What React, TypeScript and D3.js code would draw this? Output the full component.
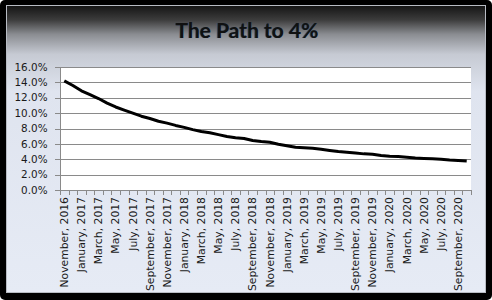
import React from "react";
import * as d3 from "d3";

const title = "The Path to 4%";

const monthNames = ["January","February","March","April","May","June","July","August","September","October","November","December"];

// Categories: November 2016 .. October 2020 (48 months)
const categories: string[] = [];
for (let k = 0; k < 48; k++) {
  const m = (10 + k) % 12;
  const y = 2016 + Math.floor((10 + k) / 12);
  categories.push(`${monthNames[m]}, ${y}`);
}

const rateValues = [
  14.2, 13.6, 12.9, 12.4, 11.9, 11.3, 10.8, 10.4, 10.0, 9.6,
  9.3, 8.95, 8.7, 8.4, 8.15, 7.85, 7.6, 7.45, 7.2, 6.95,
  6.8, 6.7, 6.45, 6.3, 6.2, 5.95, 5.75, 5.55, 5.5, 5.42,
  5.3, 5.15, 5.0, 4.9, 4.8, 4.7, 4.65, 4.5, 4.4, 4.35,
  4.25, 4.15, 4.1, 4.05, 4.0, 3.9, 3.85, 3.78,
];

const yTicks = [0, 2, 4, 6, 8, 10, 12, 14, 16];

const W = 492, H = 300;
const plot = { left: 60, right: 471, top: 67, bottom: 190 };

export default function App() {
  const x = d3.scaleBand<string>().domain(categories).range([plot.left, plot.right]).padding(0);
  const y = d3.scaleLinear().domain([0, 16]).range([plot.bottom, plot.top]);
  const line = d3.line<number>()
    .x((_, i) => (x(categories[i]) as number) + x.bandwidth() / 2)
    .y((d) => y(d));
  const font = "'DejaVu Sans', sans-serif";
  const bounds = categories.map((c) => x(c) as number).concat([plot.right]);

  return (
    <svg width={W} height={H} style={{ position: "absolute", left: 0, top: 0, display: "block" }}>
      <defs>
        <linearGradient id="bg" x1="0" y1="0" x2="0" y2="1">
          <stop offset="0" stopColor="#141414" />
          <stop offset="0.05" stopColor="#3c3c3c" />
          <stop offset="0.1" stopColor="#8a8c91" />
          <stop offset="0.17" stopColor="#c6cad3" />
          <stop offset="0.3" stopColor="#dfe4ef" />
          <stop offset="1" stopColor="#e6ebf5" />
        </linearGradient>
      </defs>
      <rect x={0} y={0} width={W} height={H} rx={5} fill="#000" />
      <rect x={6.5} y={5.5} width={479} height={287} fill="url(#bg)" stroke="#b8bcc4" strokeWidth={1} />
      <text x={247} y={38} textAnchor="middle" fontFamily="Lato, 'Open Sans', sans-serif" fontWeight="bold" fontSize={21} fill="#2b4a6e" dx={-0.8}>{title}</text>
      <text x={247} y={38} textAnchor="middle" fontFamily="Lato, 'Open Sans', sans-serif" fontWeight="bold" fontSize={21} fill="#111">{title}</text>

      <rect x={plot.left} y={plot.top} width={plot.right - plot.left} height={plot.bottom - plot.top} fill="#fff" />
      {yTicks.map((t) => (
        <g key={t}>
          <line x1={plot.left - 5} x2={plot.right} y1={Math.round(y(t)) + 0.5} y2={Math.round(y(t)) + 0.5} stroke="#8a8a8a" strokeWidth={1} />
          <text x={47.5} y={y(t)} dy="0.35em" textAnchor="end" fontFamily={font} fontSize={10.4} fill="#1a1a1a">{t.toFixed(1)}%</text>
        </g>
      ))}
      <line x1={plot.left + 0.5} x2={plot.left + 0.5} y1={plot.top} y2={plot.bottom} stroke="#8a8a8a" strokeWidth={1} />
      {bounds.map((b, i) => (
        <line key={i} x1={Math.round(b) + 0.5} x2={Math.round(b) + 0.5} y1={plot.bottom} y2={plot.bottom + 5} stroke="#8a8a8a" strokeWidth={1} />
      ))}
      {categories.map((c, i) => i % 2 === 0 ? (
        <text key={c} transform={`translate(${(x(c) as number) + x.bandwidth() / 2},197) rotate(-90)`} dy="0.35em" textAnchor="end" fontFamily={font} fontSize={10.8} fill="#1a1a1a">{c}</text>
      ) : null)}
      <path d={line(rateValues) || ""} fill="none" stroke="#000" strokeWidth={3} strokeLinejoin="round" />
    </svg>
  );
}
